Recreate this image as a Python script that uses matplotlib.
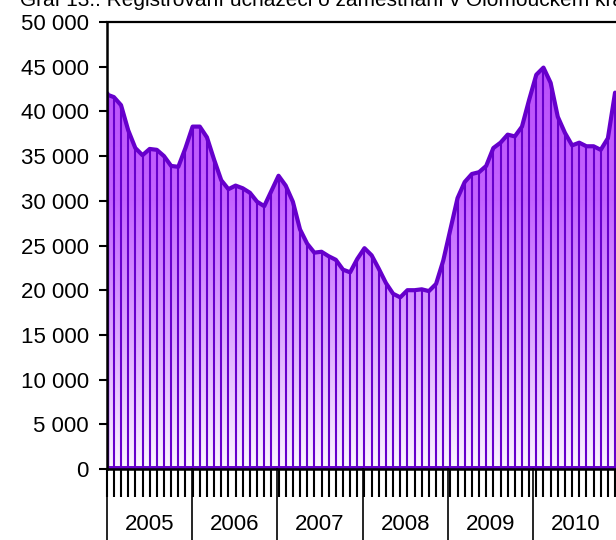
import numpy as np
import matplotlib
matplotlib.use("Agg")
import matplotlib.pyplot as plt
from matplotlib.colors import LinearSegmentedColormap
from matplotlib.ticker import FuncFormatter

plt.rcParams['font.family'] = ['Liberation Sans', 'DejaVu Sans']

title = "Graf 13.: Registrovaní uchazeči o zaměstnání v Olomouckém kraji"
years = ["2005", "2006", "2007", "2008", "2009", "2010"]
y2005 = [41900, 41600, 40700, 37900, 35900, 35100, 35800, 35700, 35000, 33900, 33800, 35900]
y2006 = [38300, 38300, 37100, 34600, 32300, 31300, 31700, 31400, 30900, 29900, 29400, 31100]
y2007 = [32800, 31700, 29900, 26800, 25200, 24200, 24300, 23800, 23400, 22300, 22000, 23500]
y2008 = [24700, 23900, 22400, 20800, 19600, 19200, 20000, 20000, 20100, 19900, 20700, 23300]
y2009 = [26800, 30300, 32100, 33000, 33200, 33900, 35900, 36500, 37400, 37200, 38300, 41300]
y2010 = [44100, 44900, 43200, 39400, 37600, 36200, 36500, 36100, 36100, 35700, 37000, 42100]
yticks = list(range(0, 50001, 5000))

values = np.array(y2005 + y2006 + y2007 + y2008 + y2009 + y2010, dtype=float)
x = np.arange(len(values))

W_PX, H_PX = 616, 540
fig = plt.figure(figsize=(W_PX / 100, H_PX / 100), dpi=100)
x0_px, y0_px, ytop_px = 106.7, 469, 22
dx_px = 7.16
ax = fig.add_axes([x0_px / W_PX, (H_PX - y0_px) / H_PX,
                   (W_PX - x0_px) / W_PX, (y0_px - ytop_px) / H_PX])
xmax = (W_PX - x0_px) / dx_px

purple = '#6600CC'
poly = ax.fill_between(x, values, 0, facecolor='none', edgecolor='none')
grad = np.linspace(0, 1, 256).reshape(-1, 1)
cmap = LinearSegmentedColormap.from_list('g', ['#FBF5FF', '#DDA8FF', '#C464FF', '#BA50FA'])
im = ax.imshow(grad, extent=[0, len(values), 0, 45000], origin='lower',
               aspect='auto', cmap=cmap, zorder=1, interpolation='bilinear')
im.set_clip_path(poly.get_paths()[0], ax.transData)

ax.vlines(x, 0, values, color=purple, lw=1.5, zorder=2)
ax.plot(x, values, color=purple, lw=3.0, zorder=3, solid_joinstyle='round',
        solid_capstyle='round')
ax.plot([0, 0], [0, values[0]], color=purple, lw=3.2, zorder=3)
ax.plot([0, xmax + 1], [0, 0], color=purple, lw=5.0, zorder=3)

ax.set_xlim(0, xmax)
ax.set_ylim(0, 50000)

ax.spines['right'].set_visible(False)
ax.spines['left'].set_linewidth(1.8)
ax.spines['bottom'].set_linewidth(1.8)
ax.spines['top'].set_linewidth(1.6)
for s in ['left', 'bottom', 'top']:
    ax.spines[s].set_zorder(5)

ax.set_yticks(yticks)
ax.yaxis.set_major_formatter(FuncFormatter(lambda v, p: f"{int(v):,}".replace(",", " ")))
ax.tick_params(axis='y', direction='out', length=6, width=1.5, pad=7,
               labelsize=16, colors='black')
ax.set_xticks(x)
ax.set_xticklabels([])
ax.tick_params(axis='x', direction='out', length=20, width=1.5, colors='black')

group = 12 * 0.993
for j, yr in enumerate(years):
    ax.text(group * j + group / 2, -(524 - y0_px) / (y0_px - ytop_px), yr,
            transform=ax.get_xaxis_transform(), ha='center', va='center',
            fontsize=16)
for j in range(len(years) + 1):
    ax.plot([group * j, group * j], [0, -0.3], transform=ax.get_xaxis_transform(),
            color='black', lw=1.2, clip_on=False, zorder=5)

fig.text(20 / W_PX, 1 - 6 / H_PX, title, fontsize=15, va='baseline', ha='left')

fig.savefig('out.png', dpi=100)
